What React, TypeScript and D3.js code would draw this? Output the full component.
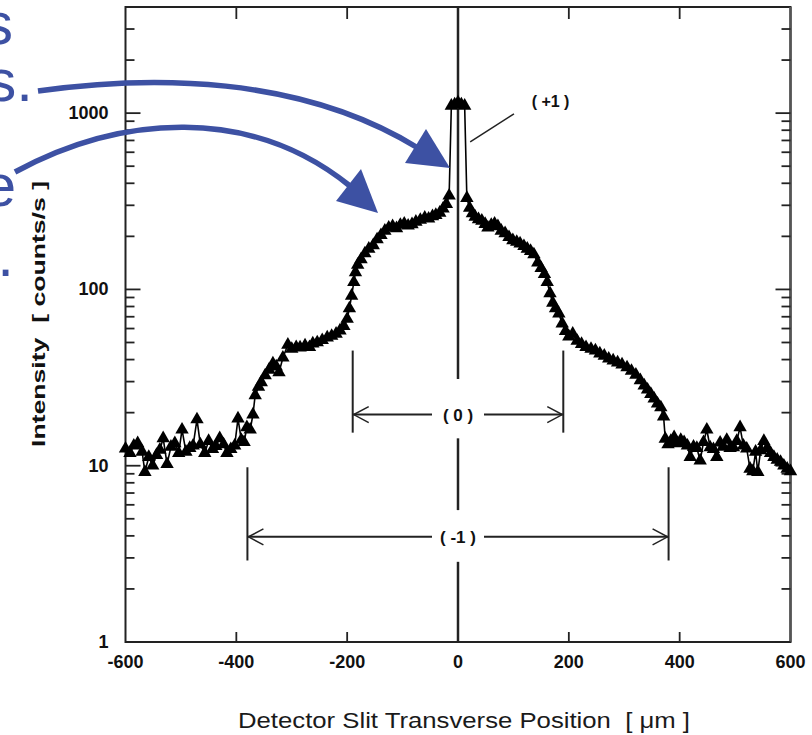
import React from "react";
import * as d3 from "d3";

// ---- data ----
const positionsUm: number[] = [
  -600, -592, -585, -578, -570, -565, -558, -551, -544, -538, -532, -525, -518, -511, -504, -498, -491, -484, -478, -471,
  -465, -457, -450, -443, -437, -430, -423, -417, -410, -403, -397, -391, -386, -381, -375, -370, -366, -360, -355, -348,
  -341, -334, -328, -323, -316, -307, -300, -292, -285, -276, -268, -262, -254, -245, -236, -228, -220, -213, -206, -200,
  -196, -192, -188, -185, -181, -175, -168, -161, -153, -146, -139, -132, -125, -118, -111, -104, -97, -90, -83, -76,
  -68, -60, -53, -46, -40, -33, -27, -21, -16,
  -12, -6, 0, 6, 12,
  16, 21, 26, 31, 37, 43, 49, 54, 60, 66, 72, 78, 85, 92, 99, 106, 112, 119, 125, 131,
  137, 144, 150, 156, 161, 166, 171, 176, 182, 188, 194, 200, 207, 215, 223, 231, 240, 248, 256, 264,
  272, 280, 288, 296, 305, 313, 321, 329, 336, 342, 348, 354, 360, 366, 371, 374, 379, 384, 390, 396,
  402, 408, 414, 419, 425, 431, 437, 443, 449, 455, 461, 467, 473, 479, 485, 491, 497, 503, 509, 515,
  521, 527, 532, 537, 541, 546, 552, 558, 564, 570, 576, 582, 588, 594, 600,
];
const intensities: number[] = [
  12.5, 11.8, 13.0, 13.4, 12.0, 9.2, 11.2, 10.0, 11.5, 12.3, 14.3, 10.2, 12.8, 13.4, 11.8, 16.0, 12.0, 12.6, 13.0, 18.3,
  13.2, 11.8, 13.8, 12.4, 12.9, 14.3, 13.2, 11.8, 12.4, 13.0, 18.5, 14.0, 13.6, 16.5, 16.0, 19.5, 25.1, 28.0, 29.7, 32.5,
  35.0, 38.0, 36.5, 33.8, 41.0, 48.5, 46.0, 47.0, 46.8, 48.0, 47.0, 49.3, 50.0, 51.5, 53.3, 54.5, 56.0, 58.4, 62.0, 68.0,
  78, 92, 110, 125, 138, 148, 160, 170, 178, 192, 203, 215, 224, 228, 222, 232, 236, 230, 234, 242,
  248, 255, 252, 260, 264, 272, 287, 305, 340,
  1100, 1120, 1150, 1120, 1100,
  330, 290, 270, 258, 250, 245, 235, 224, 232, 236, 228, 215, 208, 198, 190, 186, 182, 176, 170, 165,
  158, 142, 132, 122, 110, 95, 84, 78, 73, 64, 58, 54, 56, 51, 49, 47, 46, 45, 43.3, 42,
  40.5, 39.5, 38.5, 37.5, 36.1, 34.5, 32.8, 30.5, 28.5, 27, 25.5, 24, 22.5, 21.4, 19, 14.2, 13.2, 13.8, 14.5, 13.4,
  14.0, 13.6, 13.0, 11.2, 12.8, 12.6, 10.7, 13.6, 16.0, 12.7, 12.4, 11.2, 13.5, 12.8, 14.0, 12.6, 12.7, 13.8, 16.5, 13.0,
  12.5, 9.6, 9.3, 12.0, 9.2, 12.2, 13.8, 12.6, 11.8, 11.2, 10.8, 10.5, 10.0, 9.6, 9.3,
];
const xTickValues: number[] = [-600, -400, -200, 0, 200, 400, 600];
const yTickValues: number[] = [1, 10, 100, 1000];
// diffraction order markers: half-width (µm), bar top/bottom and arrow level (counts/s)
const orderBars: { label: string; half: number; top: number; bottom: number; level: number; gapTop: number; gapBottom: number }[] = [
  { label: "( 0 )", half: 190, top: 45, bottom: 15.4, level: 19.5, gapTop: 31, gapBottom: 14.3 },
  { label: "( -1 )", half: 380, top: 9.8, bottom: 2.9, level: 3.95, gapTop: 5.6, gapBottom: 2.85 },
];
const sideWords: string[] = ["s", "s.", "e", "."];

const W = 812;
const H = 735;

export default function App() {
  const x = d3.scaleLinear().domain([-600, 600]).range([125.5, 790.5]);
  const y = d3.scaleLog().domain([1, 4000]).range([642, 7]);
  const [x0, x1] = x.range();
  const [yb, yt] = y.range();

  const pts = positionsUm.map((p, i) => [p, intensities[i]] as [number, number]);
  const line = d3.line<[number, number]>().x((d) => x(d[0])).y((d) => y(d[1]));
  const tri = d3.symbol().type(d3.symbolTriangle).size(78)();

  const minor: number[] = [];
  for (let dec = 1; dec <= 1000; dec *= 10) {
    for (let k = 2; k <= 9; k++) {
      const v = k * dec;
      if (v < 4000) minor.push(v);
    }
  }

  const blue = "#3d51a3";
  const ink = "#111";
  const font = "'Liberation Sans', Arial, Helvetica, sans-serif";

  const cx = x(0);
  const arrowH = (xa: number, ya: number, dir: number) =>
    `M${xa + dir * 15},${ya - 8} L${xa},${ya} L${xa + dir * 15},${ya + 8}`;

  const labelGap = 26;

  return (
    <svg width={W} height={H} style={{ position: "absolute", left: 0, top: 0, background: "#fff" }}>
      <rect x={0} y={0} width={W} height={H} fill="#fff" />

      {/* side text fragments */}
      <g fill={blue} fontFamily={font} fontSize={60}>
        <text x={13} y={44} textAnchor="end">{sideWords[0]}</text>
        <text x={33} y={101} textAnchor="end">{sideWords[1]}</text>
        <text x={16} y={206} textAnchor="end">{sideWords[2]}</text>
        <text x={14} y={276} textAnchor="end">{sideWords[3]}</text>
      </g>

      {/* frame */}
      <rect x={x0} y={yt} width={x1 - x0} height={yb - yt} fill="none" stroke="#222" strokeWidth={2} />
      <line x1={x1} x2={x1} y1={yt} y2={yb} stroke="#555" strokeWidth={2.5} />

      {/* y ticks left & right */}
      <g stroke="#222" strokeWidth={1.8}>
        {yTickValues.map((v) => (
          <g key={"M" + v}>
            <line x1={x0} x2={x0 + 15} y1={y(v)} y2={y(v)} />
            <line x1={x1} x2={x1 - 15} y1={y(v)} y2={y(v)} />
          </g>
        ))}
        {minor.map((v) => (
          <g key={"m" + v}>
            <line x1={x0} x2={x0 + 9} y1={y(v)} y2={y(v)} />
            <line x1={x1} x2={x1 - 9} y1={y(v)} y2={y(v)} />
          </g>
        ))}
      </g>

      {/* x ticks top & bottom */}
      <g stroke="#222" strokeWidth={1.8}>
        {xTickValues.filter((v) => Math.abs(v) < 600 && v !== 0).map((v) => (
          <g key={"x" + v}>
            <line x1={x(v)} x2={x(v)} y1={yt} y2={yt + 12} />
            <line x1={x(v)} x2={x(v)} y1={yb} y2={yb - 10} />
          </g>
        ))}
      </g>

      {/* tick labels */}
      <g fontFamily={font} fontWeight="bold" fontSize={18} fill={ink}>
        {yTickValues.map((v) => (
          <text key={"yl" + v} x={x0 - 17} y={y(v) + 6} textAnchor="end">{String(v)}</text>
        ))}
        {xTickValues.map((v) => (
          <text key={"xl" + v} x={x(v)} y={668} textAnchor="middle">{String(v)}</text>
        ))}
      </g>

      {/* axis titles */}
      <text
        x={cx + 6}
        y={728}
        textAnchor="middle"
        fontFamily={font}
        fontSize={22}
        fill="#1a1a1a"
        textLength={452}
        lengthAdjust="spacingAndGlyphs"
        style={{ whiteSpace: "pre" }}
      >
        {"Detector Slit Transverse Position  [ μm ]"}
      </text>
      <text
        transform={`translate(45, 314) rotate(-90)`}
        textAnchor="middle"
        fontFamily={font}
        fontWeight="bold"
        fontSize={19}
        fill={ink}
        textLength={266}
        lengthAdjust="spacingAndGlyphs"
        style={{ whiteSpace: "pre" }}
      >
        {"Intensity  [ counts/s ]"}
      </text>

      {/* central line with gaps for labels */}
      <g stroke="#222" strokeWidth={2.5}>
        <line x1={cx} x2={cx} y1={yt} y2={y(orderBars[0].gapTop)} />
        <line x1={cx} x2={cx} y1={y(orderBars[0].gapBottom)} y2={y(orderBars[1].gapTop)} />
        <line x1={cx} x2={cx} y1={y(orderBars[1].gapBottom)} y2={yb} />
      </g>

      {/* order annotations */}
      {orderBars.map((b) => {
        const yl = y(b.level);
        const xl = x(-b.half);
        const xr = x(b.half);
        return (
          <g key={b.label} stroke="#222" fill="none">
            <line x1={xl} x2={xl} y1={y(b.top)} y2={y(b.bottom)} strokeWidth={2} />
            <line x1={xr} x2={xr} y1={y(b.top)} y2={y(b.bottom)} strokeWidth={2} />
            <line x1={xl} x2={cx - labelGap} y1={yl} y2={yl} strokeWidth={2} />
            <line x1={cx + labelGap} x2={xr} y1={yl} y2={yl} strokeWidth={2} />
            <path d={arrowH(xl + 1, yl, 1)} strokeWidth={1.5} />
            <path d={arrowH(xr - 1, yl, -1)} strokeWidth={1.5} />
            <text
              x={cx}
              y={yl + 6}
              textAnchor="middle"
              fontFamily={font}
              fontWeight="bold"
              fontSize={17}
              fill={ink}
              stroke="none"
              style={{ whiteSpace: "pre" }}
            >
              {b.label}
            </text>
          </g>
        );
      })}

      {/* (+1) label with leader */}
      <line x1={x(22)} y1={y(687)} x2={x(101)} y2={y(990)} stroke="#222" strokeWidth={1.5} />
      <text x={x(167)} y={y(1080)} textAnchor="middle" fontFamily={font} fontWeight="bold" fontSize={16} fill={ink} style={{ whiteSpace: "pre" }}>
        {"( +1 )"}
      </text>

      {/* data */}
      <path d={line(pts) || ""} fill="none" stroke="#000" strokeWidth={1.6} />
      <g fill="#000">
        {pts.map((d, i) => (
          <path key={i} d={tri} transform={`translate(${x(d[0])},${y(d[1])})`} />
        ))}
      </g>

      {/* blue arrows */}
      <g fill="none" stroke={blue} strokeWidth={5.5} strokeLinecap="butt">
        <path d="M38,91 C150,75 300,75 418,148" />
        <path d="M15,172 C120,115 250,105 350,186" />
      </g>
      <g fill={blue}>
        <polygon points="405,163 426,129 450,168" />
        <polygon points="336,201 361,169 378,213" />
      </g>
    </svg>
  );
}
